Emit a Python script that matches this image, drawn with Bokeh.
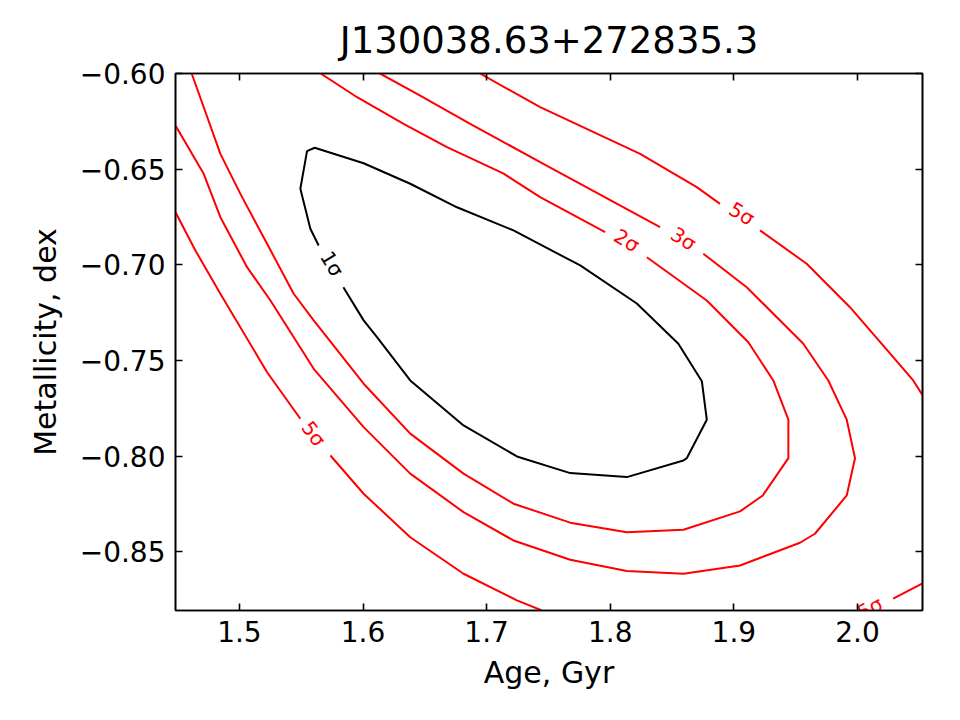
from bokeh.plotting import figure
from bokeh.models import LinearAxis, FixedTicker, Range1d, CustomLabelingPolicy
from bokeh.core.properties import value
from bokeh.embed import file_html
from bokeh.resources import INLINE

title_text = "J130038.63+272835.3"
x_label = "Age, Gyr"
y_label = "Metallicity, dex"

x_ticks = [1.5, 1.6, 1.7, 1.8, 1.9, 2.0]
x_tick_labels = ["1.5", "1.6", "1.7", "1.8", "1.9", "2.0"]
y_ticks = [-0.85, -0.80, -0.75, -0.70, -0.65, -0.60]
y_tick_labels = ["\u22120.85", "\u22120.80", "\u22120.75", "\u22120.70", "\u22120.65", "\u22120.60"]

x_range = (1.4483, 2.0526)
y_range = (-0.8806, -0.60)

# 1-sigma contour (closed loop, broken where its label sits)
sig1_age = [1.5841, 1.6005, 1.6113, 1.6382, 1.6813, 1.7245, 1.7676, 1.8134, 1.8592,
            1.8619, 1.8781, 1.8741, 1.8551, 1.8215, 1.7757, 1.7217, 1.6760, 1.6382,
            1.6005, 1.5609, 1.5547, 1.5493, 1.5574, 1.5641]
sig1_met = [-0.7117, -0.7290, -0.7378, -0.7604, -0.7839, -0.8001, -0.8088, -0.8109, -0.8022,
            -0.8010, -0.7809, -0.7608, -0.7412, -0.7202, -0.7003, -0.6820, -0.6699, -0.6576,
            -0.6469, -0.6388, -0.6406, -0.6602, -0.6811, -0.6899]

# 2-sigma contour, two pieces either side of the label
sig2a_age = [1.5657, 1.5952, 1.6328, 1.6679, 1.7134, 1.7433, 1.7959]
sig2a_met = [-0.6000, -0.6124, -0.6263, -0.6385, -0.6522, -0.6646, -0.6829]
sig2b_age = [1.8296, 1.8781, 1.9117, 1.9319, 1.9441, 1.9441, 1.9234, 1.9050, 1.8592, 1.8134,
             1.7676, 1.7217, 1.6813, 1.6382, 1.6005, 1.5601, 1.5439, 1.5224, 1.5008, 1.4846,
             1.4614]
sig2b_met = [-0.6960, -0.7186, -0.7404, -0.7604, -0.7809, -0.8010, -0.8205, -0.8288, -0.8384,
             -0.8397, -0.8347, -0.8248, -0.8091, -0.7882, -0.7621, -0.7290, -0.7151, -0.6890,
             -0.6629, -0.6420, -0.6000]

# 3-sigma contour
sig3a_age = [1.6137, 1.6437, 1.6867, 1.7433, 1.8403]
sig3a_met = [-0.6000, -0.6106, -0.6263, -0.6463, -0.6803]
sig3b_age = [1.8753, 1.9104, 1.9562, 1.9764, 1.9913, 1.9980, 1.9913, 1.9656, 1.9535, 1.9050,
             1.8592, 1.8134, 1.7676, 1.7217, 1.6813, 1.6382, 1.6005, 1.5601, 1.5251, 1.5062,
             1.4846, 1.4711, 1.4483]
sig3b_met = [-0.6942, -0.7117, -0.7412, -0.7604, -0.7809, -0.8010, -0.8205, -0.8405, -0.8452,
             -0.8571, -0.8614, -0.8600, -0.8541, -0.8440, -0.8292, -0.8091, -0.7848, -0.7543,
             -0.7186, -0.7012, -0.6751, -0.6524, -0.6272]

# 5-sigma contour: upper-right branch
sig5a_age = [1.6946, 1.7433, 1.8242, 1.8700, 1.8888]
sig5a_met = [-0.6000, -0.6176, -0.6420, -0.6594, -0.6681]
sig5b_age = [1.9212, 1.9589, 1.9939, 2.0289, 2.0451, 2.0530]
sig5b_met = [-0.6820, -0.6994, -0.7221, -0.7482, -0.7604, -0.7685]
# 5-sigma contour: lower-left branch
sig5c_age = [1.4483, 1.4644, 1.4846, 1.5224, 1.5493]
sig5c_met = [-0.6725, -0.6925, -0.7151, -0.7561, -0.7804]
sig5d_age = [1.5736, 1.6005, 1.6382, 1.6813, 1.7245, 1.7447]
sig5d_met = [-0.7996, -0.8196, -0.8423, -0.8614, -0.8753, -0.8806]
# 5-sigma contour: lower-right corner
sig5e_age = [2.0289, 2.0530]
sig5e_met = [-0.8744, -0.8663]

# inline contour labels
label_age = [1.5749, 1.8134, 1.8592, 1.9064, 1.5601, 2.0101]
label_met = [-0.6994, -0.6873, -0.6864, -0.6733, -0.7882, -0.8793]
label_text = ["1\u03c3", "2\u03c3", "3\u03c3", "5\u03c3", "5\u03c3", "5\u03c3"]
label_angle = [-59, -31, -32, -31, -53, 28]
label_color = ["black", "red", "red", "red", "red", "red"]

FONT = "DejaVu Sans"

p = figure(width=960, height=720, output_backend="svg", toolbar_location=None,
           x_range=Range1d(*x_range), y_range=Range1d(*y_range),
           min_border_left=175, min_border_right=38, min_border_top=73, min_border_bottom=110,
           x_axis_label=x_label, y_axis_label=y_label)
p.background_fill_color = "white"
p.border_fill_color = "white"
p.grid.visible = False
p.outline_line_color = "black"
p.outline_line_width = 1.6

p.title.text = title_text
p.title.align = "center"
p.title.text_font = FONT
p.title.text_font_size = "37px"
p.title.text_font_style = "normal"
p.title.text_color = "black"
p.title.standoff = 2

p.multi_line(xs=[sig1_age], ys=[sig1_met], line_color="black", line_width=2)
p.multi_line(xs=[sig2a_age, sig2b_age, sig3a_age, sig3b_age, sig5a_age, sig5b_age,
                 sig5c_age, sig5d_age, sig5e_age],
             ys=[sig2a_met, sig2b_met, sig3a_met, sig3b_met, sig5a_met, sig5b_met,
                 sig5c_met, sig5d_met, sig5e_met],
             line_color="red", line_width=2)

p.text(x=label_age, y=label_met, text=label_text, angle=label_angle, angle_units="deg",
       text_color=label_color, text_font=value(FONT), text_font_size="20px",
       text_align="center", text_baseline="middle")

# mirrored axes on top/right carry ticks only
hide_all_labels = CustomLabelingPolicy(
    code="const ids = Array.from(indices); for (const i of ids) indices.unset(i); return indices")


def style_axis(ax, ticks, labels, show_labels):
    ax.ticker = FixedTicker(ticks=ticks)
    ax.major_tick_in = 7
    ax.major_tick_out = 0
    ax.minor_tick_in = 0
    ax.minor_tick_out = 0
    ax.major_tick_line_width = 1.6
    ax.axis_line_width = 1.6
    ax.axis_line_color = "black"
    ax.major_tick_line_color = "black"
    ax.major_label_text_font = FONT
    ax.major_label_text_color = "black"
    ax.axis_label_text_font = FONT
    ax.axis_label_text_font_style = "normal"
    ax.axis_label_text_font_size = "30px"
    ax.axis_label_text_color = "black"
    if show_labels:
        ax.major_label_overrides = {t: s for t, s in zip(ticks, labels)}
        ax.major_label_text_font_size = "28px"
        ax.major_label_standoff = 10
    else:
        ax.major_label_policy = hide_all_labels
        ax.major_label_standoff = 0


style_axis(p.xaxis[0], x_ticks, x_tick_labels, True)
style_axis(p.yaxis[0], y_ticks, y_tick_labels, True)
p.xaxis[0].axis_label_standoff = 10
p.yaxis[0].axis_label_standoff = 14

top_axis = LinearAxis()
style_axis(top_axis, x_ticks, x_tick_labels, False)
p.add_layout(top_axis, "above")
right_axis = LinearAxis()
style_axis(right_axis, y_ticks, y_tick_labels, False)
p.add_layout(right_axis, "right")

open("out.html", "w").write(file_html(p, INLINE))
